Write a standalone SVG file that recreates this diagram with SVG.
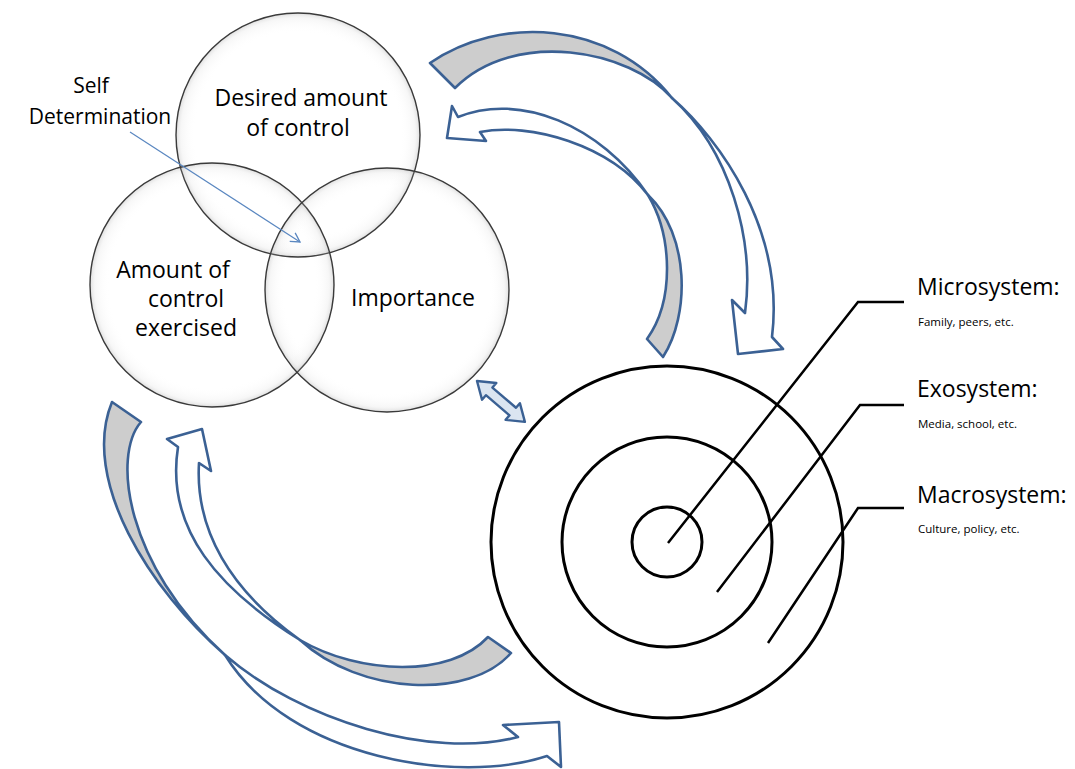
<svg xmlns="http://www.w3.org/2000/svg" width="1075" height="769" viewBox="0 0 1075 769">
<defs>
<style>
.venn{stroke:#3a3a3a;stroke-width:1.4;fill:url(#glow)}
.lbl{font-family:"Open Sans","Liberation Sans",sans-serif;fill:#000;text-anchor:middle}
.big{font-size:23px}
.sys{font-family:"Open Sans","Liberation Sans",sans-serif;font-size:23px;fill:#000}
.sub{font-family:"Open Sans","Liberation Sans",sans-serif;font-size:11.5px;fill:#000}
.ring{fill:none;stroke:#000;stroke-width:3}
.lead{fill:none;stroke:#000;stroke-width:2.5}
.back{fill:#cdcdcd;stroke:#3b6194;stroke-width:2.6;stroke-linejoin:round}
.front{fill:#fff;stroke:#3b6194;stroke-width:2.6;stroke-linejoin:round}
.dbl{fill:#dbe5f1;stroke:#3b6194;stroke-width:2.4;stroke-linejoin:round}
.ptr{fill:none;stroke:#5a87c0;stroke-width:1.2}
</style>
<radialGradient id="glow" cx="0.5" cy="0.5" r="0.5">
<stop offset="0.84" stop-color="#ffffff" stop-opacity="0"/>
<stop offset="0.96" stop-color="#c4c4c4" stop-opacity="0.14"/>
<stop offset="1" stop-color="#8a8a8a" stop-opacity="0.28"/>
</radialGradient>
<marker id="openArrow" markerWidth="12" markerHeight="12" refX="10" refY="6" orient="auto" markerUnits="userSpaceOnUse">
<path d="M1,1 L10,6 L1,11" fill="none" stroke="#5a87c0" stroke-width="1.3"/>
</marker>
</defs>
<rect width="1075" height="769" fill="#fff"/>

<g id="node-desired">
<circle class="venn" cx="298" cy="135" r="122"/>
<text class="lbl big" x="301" y="106">Desired amount</text>
<text class="lbl big" x="298" y="136">of control</text>
</g>
<g id="node-exercised">
<circle class="venn" cx="212" cy="285" r="122"/>
<text class="lbl big" x="173" y="278">Amount of</text>
<text class="lbl big" x="186" y="307">control</text>
<text class="lbl big" x="186" y="336">exercised</text>
</g>
<g id="node-importance">
<circle class="venn" cx="387" cy="290" r="122"/>
<text class="lbl big" x="413" y="306">Importance</text>
</g>
<g id="node-selfdetermination">
<text class="lbl" font-size="21" x="91" y="93">Self</text>
<text class="lbl" font-size="21" x="100" y="124">Determination</text>
</g>

<g id="node-ecosystem">
<circle class="ring" cx="667" cy="542" r="176"/>
<circle class="ring" cx="667" cy="542" r="105"/>
<circle class="ring" cx="667" cy="542" r="35"/>
<polyline class="lead" points="668,543 858,302 904,302"/>
<polyline class="lead" points="717,592 860,405 904,405"/>
<polyline class="lead" points="768,643 858,508 904,508"/>
<text class="sys" x="917" y="295">Microsystem:</text>
<text class="sub" x="918" y="326">Family, peers, etc.</text>
<text class="sys" x="917" y="397">Exosystem:</text>
<text class="sub" x="918" y="428">Media, school, etc.</text>
<text class="sys" x="917" y="503">Macrosystem:</text>
<text class="sub" x="918" y="533">Culture, policy, etc.</text>
</g>

<g id="connectors">
<line class="ptr" x1="130" y1="132" x2="300" y2="242" marker-end="url(#openArrow)"/>
<g id="arrow-top-outer">
<path class="back" d="M430,63 C500,15 610,20 672,98 C630,50 515,28 455,88 Z"/>
<path class="front" d="M672,98 C720,140 785,230 772,337 L783,349 L738,354 L732,300 L745,313 C755,240 730,150 672,98 Z"/>
</g>
<g id="arrow-top-inner">
<path class="front" d="M648,195 C600,125 520,92 458,117 L452,106 L447,138 L486,141 L480,132 C530,122 610,145 648,195 Z"/>
<path class="back" d="M648,195 C672,235 675,300 647,339 L663,357 C690,315 690,235 648,195 Z"/>
</g>
<g id="arrow-bottom-outer">
<path class="back" d="M112,402 L141,422 C112,455 125,565 225,655 C150,590 80,480 112,402 Z"/>
<path class="front" d="M225,655 C300,720 430,760 518,737 L503,725 L559,722 L561,767 L547,756 C460,785 290,760 225,655 Z"/>
</g>
<g id="arrow-bottom-inner">
<path class="front" d="M300,640 C220,590 165,530 178,447 L167,439 L202,429 L211,471 L199,463 C195,530 230,590 300,640 Z"/>
<path class="back" d="M300,640 C360,675 450,678 488,637 L511,653 C470,700 360,695 300,640 Z"/>
</g>
<g id="arrow-double">
<path class="dbl" transform="translate(477,381) rotate(40.5)" d="M0,0 L16,-11 L16,-5 L47,-5 L47,-11 L63,0 L47,11 L47,5 L16,5 L16,11 Z"/>
</g>
</g>
</svg>
